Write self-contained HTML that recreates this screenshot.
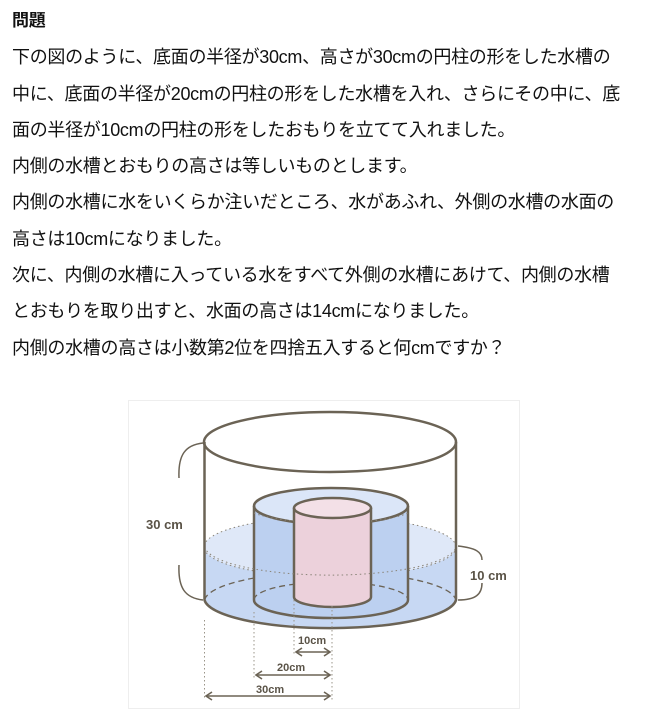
<!DOCTYPE html>
<html><head><meta charset="utf-8"><style>
body{margin:0;width:661px;height:719px;background:#fff;overflow:hidden;font-family:"Liberation Sans","Noto Sans CJK JP",sans-serif;color:#111;}
.t{position:absolute;left:12px;top:2px;font-size:18px;line-height:36.3px;white-space:nowrap;letter-spacing:-0.3px}
.t b{font-size:17px}
svg{position:absolute;left:0;top:0}
</style></head><body>
<div class="t"><b>問題</b><br>下の図のように、底面の半径が30cm、高さが30cmの円柱の形をした水槽の<br>中に、底面の半径が20cmの円柱の形をした水槽を入れ、さらにその中に、底<br>面の半径が10cmの円柱の形をしたおもりを立てて入れました。<br>内側の水槽とおもりの高さは等しいものとします。<br>内側の水槽に水をいくらか注いだところ、水があふれ、外側の水槽の水面の<br>高さは10cmになりました。<br>次に、内側の水槽に入っている水をすべて外側の水槽にあけて、内側の水槽<br>とおもりを取り出すと、水面の高さは14cmになりました。<br>内側の水槽の高さは小数第2位を四捨五入すると何cmですか？</div>
<svg width="661" height="719" viewBox="0 0 661 719">
<rect x="128.5" y="400.5" width="391" height="308" fill="none" stroke="#eee"/>
<g stroke="#6b6355" fill="none">
<path d="M204.5 547 V600 A126 30 0 0 0 456 600 V547 A126 30 0 0 0 204.5 547Z" fill="#c7d8f3" stroke="none"/>
<ellipse cx="330" cy="547" rx="126" ry="30" fill="#dfe8f8" stroke="#8a8478" stroke-width="1" stroke-dasharray="1.5 3"/>
<path d="M204.5 600 A126 30 0 0 1 456 600" stroke-width="1.3" stroke-dasharray="6 4"/>
<path d="M254 506 V600 A77 18 0 0 0 408 600 V506Z" fill="#bcd0f0" stroke="none"/>
<ellipse cx="331" cy="506" rx="77" ry="18" fill="#dbe6f8" stroke-width="2.5"/>
<path d="M254 506 V600 A77 18 0 0 0 408 600 V506" stroke-width="2.5"/>
<path d="M254 600 A77 18 0 0 1 408 600" stroke-width="1.3" stroke-dasharray="6 4"/>
<path d="M294 508 V597 A38.5 10 0 0 0 371 597 V508Z" fill="#ecd1db" stroke="none"/>
<ellipse cx="332.5" cy="508" rx="38.5" ry="10" fill="#f3e0e7" stroke-width="2.5"/>
<path d="M294 508 V597 A38.5 10 0 0 0 371 597 V508" stroke-width="2.5"/>
<path d="M254 513 A77 18 0 0 0 294 521 M371 521 A77 18 0 0 0 408 513" stroke="#8a8478" stroke-width="1" stroke-dasharray="1.5 3"/>
<path d="M204.5 547 A126 30 0 0 0 456 547" stroke="#8a8478" stroke-width="1" stroke-dasharray="1.5 3"/>
<ellipse cx="330" cy="442" rx="126" ry="30" stroke-width="2.5"/>
<path d="M204.5 442 V600 A126 30 0 0 0 456 600 V442" stroke-width="2.5"/>
<path d="M203 443 C185 445 178 455 179 478 M179 565 C178 588 185 598 203 600" stroke-width="1.5"/>
<path d="M458 546 C476 548 482 552 482 560 M482 583 C482 594 476 600 458 600" stroke-width="1.5"/>
<g stroke="#9a9488" stroke-width="1" stroke-dasharray="1.5 2.5">
<line x1="204.5" y1="620" x2="204.5" y2="700"/><line x1="254" y1="612" x2="254" y2="680"/>
<line x1="294" y1="600" x2="294" y2="656"/><line x1="332" y1="606" x2="332" y2="700"/>
</g>
<g stroke-width="1.6">
<line x1="296" y1="652" x2="330" y2="652"/><path d="M302 648 L296 652 L302 656 M324 648 L330 652 L324 656"/>
<line x1="256" y1="675" x2="330" y2="675"/><path d="M262 671 L256 675 L262 679 M324 671 L330 675 L324 679"/>
<line x1="206" y1="696" x2="330" y2="696"/><path d="M212 692 L206 696 L212 700 M324 692 L330 696 L324 700"/>
</g>
</g>
<g fill="#5a5347" font-family="Liberation Sans, sans-serif" font-weight="bold">
<text x="146" y="529" font-size="13">30 cm</text>
<text x="470" y="580" font-size="13">10 cm</text>
<text x="298" y="644" font-size="11">10cm</text>
<text x="277" y="671" font-size="11">20cm</text>
<text x="256" y="693" font-size="11">30cm</text>
</g>
</svg>
</body></html>
